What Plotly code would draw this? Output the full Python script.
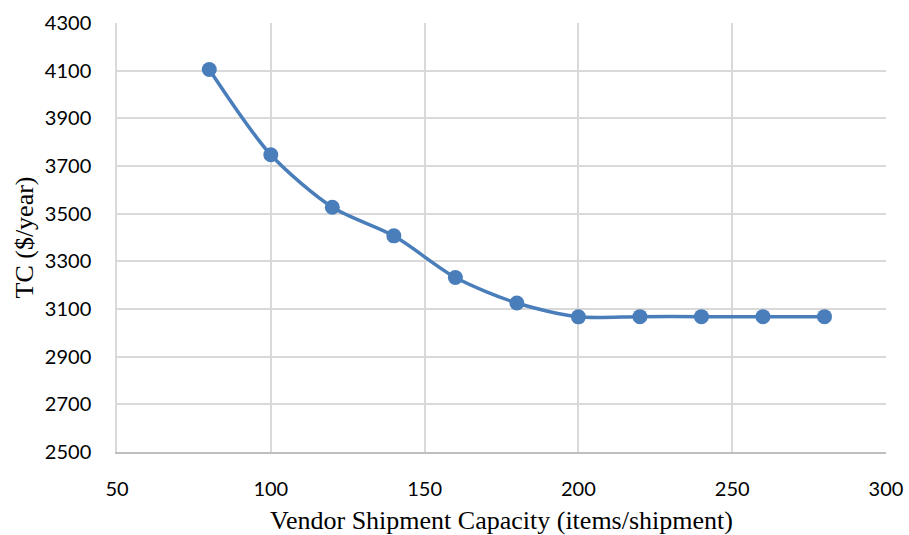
import plotly.graph_objects as go

capacity = [80, 100, 120, 140, 160, 180, 200, 220, 240, 260, 280]
total_cost = [4105, 3747, 3527, 3407, 3232, 3125, 3067, 3068, 3068, 3068, 3068]

x_ticks = [50, 100, 150, 200, 250, 300]
y_ticks = [2500, 2700, 2900, 3100, 3300, 3500, 3700, 3900, 4100, 4300]

color = "#4A7EBB"

fig = go.Figure()
fig.add_trace(go.Scatter(
    x=capacity, y=total_cost,
    mode="lines+markers",
    line=dict(color=color, width=3.5, shape="spline", smoothing=0.8),
    marker=dict(color=color, size=15),
    showlegend=False,
    cliponaxis=False,
))

fig.update_layout(
    width=909, height=535,
    margin=dict(l=117, r=23, t=23, b=83, autoexpand=False),
    paper_bgcolor="white", plot_bgcolor="white",
)
fig.update_xaxes(
    range=[50, 300], tickvals=x_ticks,
    showgrid=True, gridcolor="#D9D9D9", gridwidth=1.5,
    showline=True, linecolor="#BFBFBF", linewidth=1.5,
    zeroline=False, ticks="",
    tickfont=dict(family="Lato", size=20, color="black"),
    ticklabelstandoff=18,
    title=dict(text="Vendor Shipment Capacity (items/shipment)",
               font=dict(family="Liberation Serif", size=26, color="black"),
               standoff=12),
)
fig.update_yaxes(
    range=[2500, 4300], tickvals=y_ticks,
    showgrid=True, gridcolor="#D9D9D9", gridwidth=1.5,
    showline=True, linecolor="#D9D9D9", linewidth=1.5,
    zeroline=False, ticks="",
    tickfont=dict(family="Lato", size=20, color="black"),
    ticklabelstandoff=20,
    title=dict(text="TC ($/year)",
               font=dict(family="Liberation Serif", size=26, color="black"),
               standoff=4),
)

fig.write_html(
    "out.html",
    config={"displayModeBar": False},
    post_script="document.body.style.margin='0';document.body.style.overflow='hidden';",
)
